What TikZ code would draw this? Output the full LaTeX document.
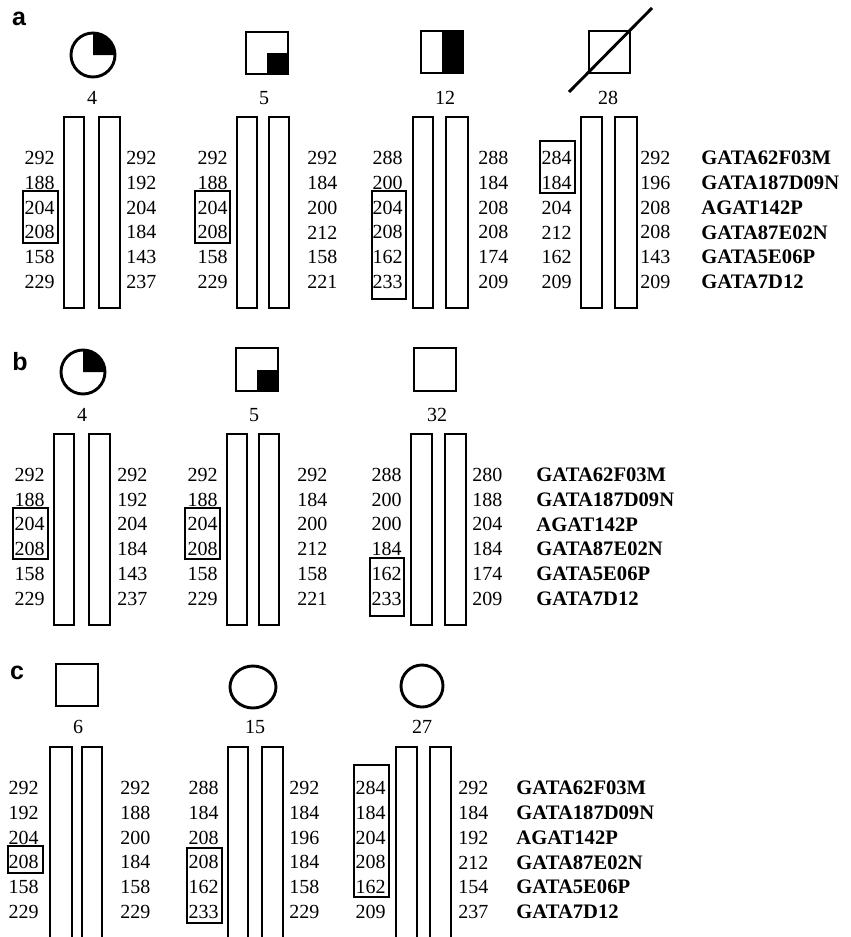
\documentclass[tikz,border=0pt]{standalone}
\usepackage{fontspec}
\setmainfont{Liberation Serif}
\newfontfamily\panelfont{Liberation Sans}
\usetikzlibrary{positioning}

\tikzset{
  allele/.style={font=\fontsize{20}{20}\selectfont,inner sep=0pt},
  marker/.style={font=\fontsize{20.6}{20}\selectfont\bfseries,inner sep=0pt,anchor=west},
  panel/.style={font=\fontsize{25}{25}\selectfont\panelfont\bfseries,inner sep=0pt},
  indiv/.style={font=\fontsize{20}{20}\selectfont,inner sep=0pt},
  chrom/.style={draw,line width=2.9pt},
  shared/.style={draw,line width=2.9pt},
}

% one column of six alleles: name, x, first row y, row step, anchor, values
\newcommand{\allelecol}[6]{%
  \foreach \v [count=\k from 0] in {#6}
    \node[allele,anchor=#5] (#1\k) at (#2,#3+#4*\k) {\v};
}

\begin{document}
\begin{tikzpicture}[x=1pt,y=-1pt,line width=2.9pt]
\useasboundingbox (0,0) rectangle (851,937);
\clip (0,0) rectangle (851,937);

%%% panel a
\node[panel] (pa) at (19,19) {a};
% symbols
\draw (93,55) circle (22pt);
\fill (93,55) -- (93,33) arc[start angle=90,end angle=0,radius=22pt] -- cycle;
\draw (246,32) rectangle (288,74);
\fill (267,53) rectangle (288,74);
\draw (421,31) rectangle (463,73);
\fill (442,31) rectangle (463,73);
\draw (589,31) rectangle (630,73);
\draw (569,92) -- (652,8);
\node[indiv] (ia4) at (92,98) {4};
\node[indiv] (ia5) at (264,98) {5};
\node[indiv] (ia12) at (445,98) {12};
\node[indiv] (ia28) at (608,98) {28};
% chromosomes
\draw[chrom] (64,117) rectangle (84,308);
\draw[chrom] (99,117) rectangle (120,308);
\draw[chrom] (237,117) rectangle (257,308);
\draw[chrom] (269,117) rectangle (289,308);
\draw[chrom] (413,117) rectangle (433,308);
\draw[chrom] (446,117) rectangle (468,308);
\draw[chrom] (581,117) rectangle (602,308);
\draw[chrom] (615,117) rectangle (637,308);
% alleles
\allelecol{aL4}{56}{158}{24.8}{east}{292,188,204,208,158,229}
\allelecol{aR4}{125}{158}{24.8}{west}{292,192,204,184,143,237}
\allelecol{aL5}{229}{158}{24.8}{east}{292,188,204,208,158,229}
\allelecol{aR5}{306}{158}{24.8}{west}{292,184,200,212,158,221}
\allelecol{aL12}{404}{158}{24.8}{east}{288,200,204,208,162,233}
\allelecol{aR12}{477}{158}{24.8}{west}{288,184,208,208,174,209}
\allelecol{aL28}{573}{158}{24.8}{east}{284,184,204,212,162,209}
\allelecol{aR28}{639}{158}{24.8}{west}{292,196,208,208,143,209}
\foreach \m [count=\k from 0] in {GATA62F03M,GATA187D09N,AGAT142P,GATA87E02N,GATA5E06P,GATA7D12}
  \node[marker] (am\k) at (700,158+24.8*\k) {\m};
% shared alleles
\draw[shared] (23,191) rectangle (58,243);
\draw[shared] (195,191) rectangle (230,243);
\draw[shared] (372,191) rectangle (406,299);
\draw[shared] (540,141) rectangle (575,193);

%%% panel b
\node[panel] (pb) at (20,362) {b};
\draw (83,372) circle (22pt);
\fill (83,372) -- (83,350) arc[start angle=90,end angle=0,radius=22pt] -- cycle;
\draw (236,348) rectangle (278,391);
\fill (257,370) rectangle (278,391);
\draw (414,348) rectangle (456,391);
\node[indiv] (ib4) at (82,415) {4};
\node[indiv] (ib5) at (254,415) {5};
\node[indiv] (ib32) at (437,415) {32};
\draw[chrom] (54,434) rectangle (74,625);
\draw[chrom] (89,434) rectangle (110,625);
\draw[chrom] (227,434) rectangle (247,625);
\draw[chrom] (259,434) rectangle (279,625);
\draw[chrom] (411,434) rectangle (432,625);
\draw[chrom] (445,434) rectangle (466,625);
\allelecol{bL4}{46}{475}{24.7}{east}{292,188,204,208,158,229}
\allelecol{bR4}{116}{475}{24.7}{west}{292,192,204,184,143,237}
\allelecol{bL5}{219}{475}{24.7}{east}{292,188,204,208,158,229}
\allelecol{bR5}{296}{475}{24.7}{west}{292,184,200,212,158,221}
\allelecol{bL32}{403}{475}{24.7}{east}{288,200,200,184,162,233}
\allelecol{bR32}{471}{475}{24.7}{west}{280,188,204,184,174,209}
\foreach \m [count=\k from 0] in {GATA62F03M,GATA187D09N,AGAT142P,GATA87E02N,GATA5E06P,GATA7D12}
  \node[marker] (bm\k) at (535,475+24.7*\k) {\m};
\draw[shared] (13,508) rectangle (48,559);
\draw[shared] (185,508) rectangle (220,559);
\draw[shared] (370,558) rectangle (404,616);

%%% panel c
\node[panel] (pc) at (17,673) {c};
\draw (56,664) rectangle (98,706);
\draw (253,687) ellipse [x radius=23pt,y radius=21pt];
\draw (422,686) circle (21pt);
\node[indiv] (ic6) at (78,727) {6};
\node[indiv] (ic15) at (255,727) {15};
\node[indiv] (ic27) at (422,727) {27};
\draw[chrom] (50,747) rectangle (72,950);
\draw[chrom] (82,747) rectangle (102,950);
\draw[chrom] (228,747) rectangle (248,950);
\draw[chrom] (262,747) rectangle (283,950);
\draw[chrom] (396,747) rectangle (417,950);
\draw[chrom] (430,747) rectangle (451,950);
\allelecol{cL6}{40}{788}{24.8}{east}{292,192,204,208,158,229}
\allelecol{cR6}{119}{788}{24.8}{west}{292,188,200,184,158,229}
\allelecol{cL15}{220}{788}{24.8}{east}{288,184,208,208,162,233}
\allelecol{cR15}{288}{788}{24.8}{west}{292,184,196,184,158,229}
\allelecol{cL27}{387}{788}{24.8}{east}{284,184,204,208,162,209}
\allelecol{cR27}{457}{788}{24.8}{west}{292,184,192,212,154,237}
\foreach \m [count=\k from 0] in {GATA62F03M,GATA187D09N,AGAT142P,GATA87E02N,GATA5E06P,GATA7D12}
  \node[marker] (cm\k) at (515,788+24.8*\k) {\m};
\draw[shared] (8,846) rectangle (43,873);
\draw[shared] (187,848) rectangle (222,923);
\draw[shared] (354,765) rectangle (389,897);
\end{tikzpicture}
\end{document}
